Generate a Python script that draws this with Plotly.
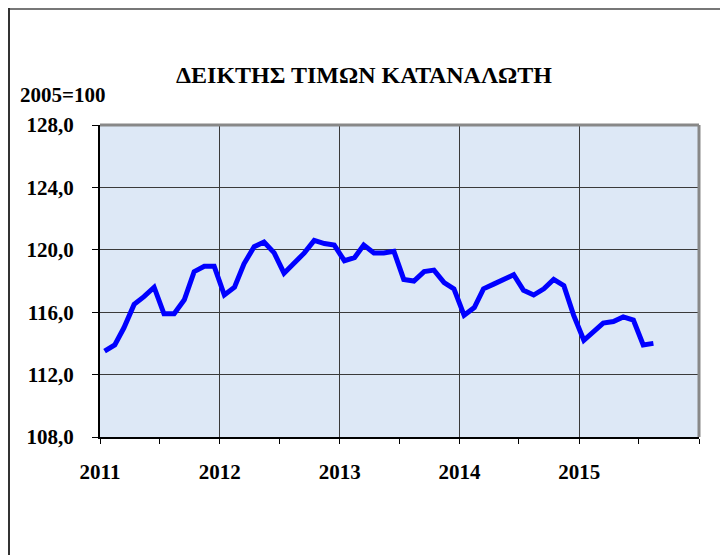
import plotly.graph_objects as go

months = (
    [f"2011-{m:02d}-15" for m in range(1, 13)]
    + [f"2012-{m:02d}-15" for m in range(1, 13)]
    + [f"2013-{m:02d}-15" for m in range(1, 13)]
    + [f"2014-{m:02d}-15" for m in range(1, 13)]
    + [f"2015-{m:02d}-15" for m in range(1, 9)]
)
cpi_2011 = [113.5, 113.9, 115.0, 116.5, 117.0, 117.6, 115.9, 115.9, 116.8, 118.6, 118.95, 118.95]
cpi_2012 = [117.1, 117.6, 119.1, 120.2, 120.5, 119.8, 118.5, 119.1, 119.8, 120.6, 120.4, 120.3]
cpi_2013 = [119.3, 119.5, 120.3, 119.8, 119.8, 119.9, 118.1, 118.0, 118.6, 118.7, 117.9, 117.5]
cpi_2014 = [115.8, 116.3, 117.5, 117.8, 118.1, 118.4, 117.4, 117.1, 117.5, 118.1, 117.7, 115.8]
cpi_2015 = [114.2, 114.8, 115.3, 115.4, 115.7, 115.5, 113.9, 114.0]
cpi = cpi_2011 + cpi_2012 + cpi_2013 + cpi_2014 + cpi_2015

year_ticks = ["2011-01-01", "2012-01-01", "2013-01-01", "2014-01-01", "2015-01-01"]
year_labels = ["2011", "2012", "2013", "2014", "2015"]
half_year_ticks = ["2011-07-01", "2012-07-01", "2013-07-01", "2014-07-01", "2015-07-01", "2016-01-01"]
y_ticks = [108, 112, 116, 120, 124, 128]

title_text = "ΔΕΙΚΤΗΣ ΤΙΜΩΝ ΚΑΤΑΝΑΛΩΤΗ"
unit_text = "2005=100"

# page body has an 8px default margin; compensate so the picture lands at reference coords
OFF = 8
W, H = 728 - OFF, 555 - OFF
L, R, T, B = 100 - OFF, 29, 125 - OFF, 118
pw = W - L - R
ph = H - T - B

def px(x):
    return (x - OFF - L) / pw

def py(y):
    return (H - B - (y - OFF)) / ph

font_serif = "Liberation Serif"

fig = go.Figure()
fig.add_trace(go.Scatter(
    x=months, y=cpi, mode="lines",
    line=dict(color="#0000ff", width=5),
    showlegend=False, hoverinfo="skip",
))

fig.update_layout(
    width=W, height=H,
    margin=dict(l=L, r=R, t=T, b=B, pad=0),
    paper_bgcolor="white",
    plot_bgcolor="#dde8f6",
    separators=",.",
    font=dict(family=font_serif, size=20, color="black"),
    xaxis=dict(
        type="date",
        range=["2011-01-01", "2016-01-01"],
        tickvals=year_ticks, ticktext=[f"<b>{t}</b>" for t in year_labels],
        showgrid=True, gridcolor="#3a3a3a", gridwidth=1,
        showline=True, linecolor="black", linewidth=2,
        ticks="outside", ticklen=5, tickcolor="black",
        ticklabelstandoff=10,
        tickfont=dict(family=font_serif, size=21, color="black"),
        minor=dict(ticks="outside", ticklen=5, tickcolor="black",
                   tickvals=half_year_ticks, showgrid=False),
        zeroline=False, fixedrange=True,
    ),
    yaxis=dict(
        range=[108, 128],
        tickvals=y_ticks, ticktext=[f"<b>{v:.1f}</b>".replace(".", ",") for v in y_ticks],
        showgrid=True, gridcolor="#3a3a3a", gridwidth=1,
        showline=True, linecolor="black", linewidth=2,
        ticks="outside", ticklen=6, tickcolor="black",
        ticklabelstandoff=14,
        tickfont=dict(family=font_serif, size=21, color="black"),
        zeroline=False, fixedrange=True,
    ),
    annotations=[
        dict(text=f"<b>{title_text}</b>", xref="paper", yref="paper",
             x=px(364), y=py(75), xanchor="center", yanchor="middle",
             showarrow=False, font=dict(family=font_serif, size=24, color="black")),
        dict(text=f"<b>{unit_text}</b>", xref="paper", yref="paper",
             x=px(62), y=py(95), xanchor="center", yanchor="middle",
             showarrow=False, font=dict(family=font_serif, size=21, color="black")),
    ],
    shapes=[
        dict(type="line", xref="paper", yref="paper", x0=0, x1=1, y0=1, y1=1,
             line=dict(color="#888888", width=3)),
        dict(type="line", xref="paper", yref="paper", x0=1, x1=1, y0=0, y1=1,
             line=dict(color="#888888", width=3)),
        # outer chart frame (top and left), at the figure edge
        dict(type="line", xref="paper", yref="paper", x0=px(OFF), x1=px(740), y0=py(OFF + 1), y1=py(OFF + 1),
             line=dict(color="#777777", width=2)),
        dict(type="line", xref="paper", yref="paper", x0=px(OFF + 1), x1=px(OFF + 1), y0=py(OFF), y1=py(570),
             line=dict(color="#333333", width=2)),
    ],
)

fig.write_html("out.html")
